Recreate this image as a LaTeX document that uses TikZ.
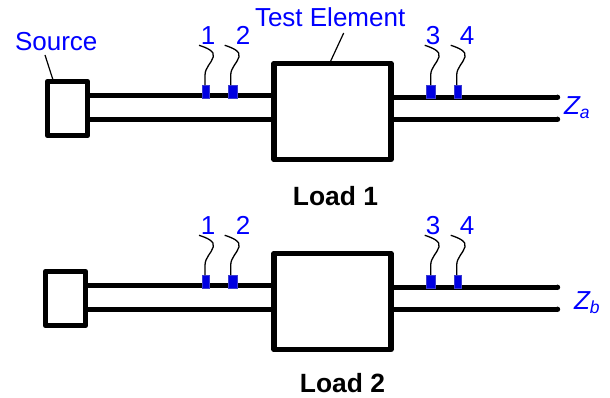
\documentclass[tikz,border=0pt]{standalone}
\usepackage{fontspec}
\setmainfont{Liberation Sans}
\definecolor{lab}{RGB}{0,0,255}
\definecolor{probefill}{RGB}{0,0,225}
\definecolor{probeedge}{RGB}{60,60,210}
\newcommand\probe[8]{% name, sensor x, sensor width, sensor y, wire start x, wire start y, label, label x
  \node[probebox,minimum width=#3pt] (#1p) at (#2,#4) {};
  \begin{scope}[shift={(#5,#6)}]
    \coordinate (#1s) at (0,0);
    \coordinate (#1m) at (14.3,11.5);
  \end{scope}
  \draw[wire] (#1s) .. controls ($(#1s)+(8,2.5)$) and ($(#1s)+(16,6)$) .. (#1m)
     .. controls ($(#1s)+(12.5,18)$) and ($(#1s)+(6,22)$) .. ($(#1s)+(6,30)$) -- (#1p.north -| {$(#1s)+(6,30)$});
  \node[lbl] (#1l) at (#8,#6-0.6) {#7};
}
\usetikzlibrary{calc}
\tikzset{
  x=1pt,y=-1pt,
  thick line/.style={line width=5.4pt,line cap=butt},
  boxn/.style={draw=black,line width=5.6pt,rectangle,inner sep=0pt,outer sep=0pt,line join=round,fill=white},
  leader/.style={line width=1.2pt},
  wire/.style={line width=1.3pt},
  probebox/.style={rectangle,fill=probefill,draw=probeedge,line width=0.8pt,inner sep=0pt,outer sep=0pt,minimum height=13pt},
  lbl/.style={text=lab,font=\fontsize{26}{30}\selectfont,anchor=base,inner sep=0pt,outer sep=0pt},
  bold/.style={text=black,font=\fontsize{26.4}{30}\selectfont\bfseries,anchor=base,inner sep=0pt,outer sep=0pt},
}
\begin{document}
\begin{tikzpicture}
\useasboundingbox (0,0) rectangle (610,398);
% upper circuit
\node[boxn,minimum width=40pt,minimum height=54pt] (src1) at (67.5,108.5) {};
\node[boxn,minimum width=117pt,minimum height=96pt] (test1) at (332.5,111.5) {};
\coordinate (e1a) at (557.5,97.3); \coordinate (e1b) at (557.5,119.3);
\draw[thick line] (src1.east |- 0,95.4) -- (test1.west |- 0,95.4);
\draw[thick line] (src1.east |- 0,119.4) -- (test1.west |- 0,119.4);
\draw[thick line] (test1.east |- e1a) -- (e1a);
\draw[thick line] (test1.east |- e1b) -- (e1b);
\fill (e1a) circle (2.7pt); \fill (e1b) circle (2.7pt);
\probe{a}{206.3}{7}{91.7}{199}{45.3}{1}{208}
\probe{b}{233.3}{9}{91.7}{224.7}{45.3}{2}{243}
\probe{c}{431.3}{9}{91.7}{424.7}{45.3}{3}{433}
\probe{d}{458.2}{7}{91.7}{450.7}{45.3}{4}{467}
\node[lbl,anchor=base west] (srclab) at (15,50.7) {Source};
\node[lbl,anchor=base west] (testlab) at (255,26.7) {Test Element};
\coordinate (srcl) at (45,55);
\coordinate (testl) at (343.7,33);
\coordinate (srct) at (52.7,79);
\coordinate (testt) at (330.7,61);
\draw[leader] (srcl) -- (srct);
\draw[leader] (testl) -- (testt);
\node[lbl,anchor=base west] (za) at (564,115) {\itshape Z\raisebox{-3.5pt}{\fontsize{17.5}{20}\selectfont a}};
\node[bold] (load1) at (335.5,205) {Load 1};
% lower circuit
\node[boxn,minimum width=40pt,minimum height=54pt] (src2) at (65.5,298.5) {};
\node[boxn,minimum width=117pt,minimum height=96pt] (test2) at (332.5,301.5) {};
\coordinate (e2a) at (557.5,287.3); \coordinate (e2b) at (557.5,309.3);
\draw[thick line] (src2.east |- 0,285.4) -- (test2.west |- 0,285.4);
\draw[thick line] (src2.east |- 0,309.4) -- (test2.west |- 0,309.4);
\draw[thick line] (test2.east |- e2a) -- (e2a);
\draw[thick line] (test2.east |- e2b) -- (e2b);
\fill (e2a) circle (2.7pt); \fill (e2b) circle (2.7pt);
\probe{f}{206.3}{7}{281.7}{199}{235.3}{1}{208}
\probe{g}{233.3}{9}{281.7}{224.7}{235.3}{2}{243}
\probe{h}{431.3}{9}{281.7}{424.7}{235.3}{3}{433}
\probe{i}{458.2}{7}{281.7}{450.7}{235.3}{4}{467}
\node[lbl,anchor=base west] (zb) at (574,309.7) {\itshape Z\raisebox{-3.5pt}{\fontsize{17.5}{20}\selectfont b}};
\node[bold] (load2) at (342.5,392.7) {Load 2};
\end{tikzpicture}
\end{document}
